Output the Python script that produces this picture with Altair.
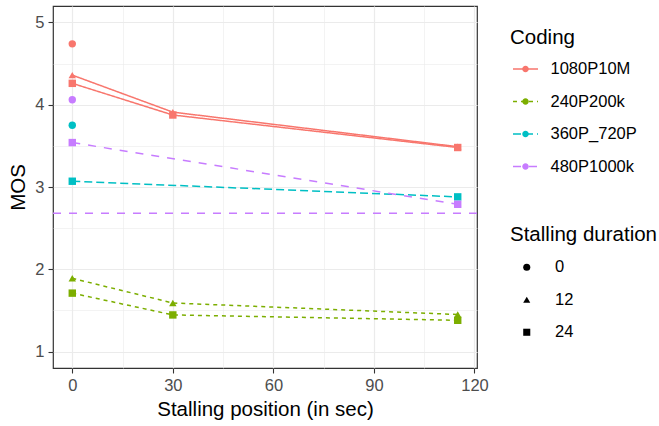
import altair as alt
import pandas as pd

# ---- data ----
coding_levels = ["1080P10M", "240P200k", "360P_720P", "480P1000k"]
coding_colors = ["#F8766D", "#7CAE00", "#00BFC4", "#C77CFF"]
coding_dashes = [[1, 0], [4, 4], [8, 4], [8, 8]]
duration_levels = ["0", "12", "24"]

series_coding = ["1080P10M", "1080P10M", "1080P10M", "240P200k", "240P200k",
                 "360P_720P", "360P_720P", "480P1000k", "480P1000k"]
series_duration = ["0", "12", "24", "12", "24", "0", "24", "0", "24"]
series_position = [[0], [0, 30, 115], [0, 30, 115], [0, 30, 115], [0, 30, 115],
                   [0], [0, 115], [0], [0, 115]]
series_mos = [[4.74], [4.36, 3.91, 3.49], [4.26, 3.875, 3.48],
              [1.89, 1.59, 1.45], [1.71, 1.445, 1.38],
              [3.75], [3.07, 2.88], [4.06], [3.54, 2.79]]
hline_mos = [2.68]

x_ticks = [0, 15, 30, 45, 60, 75, 90, 105, 120]
y_ticks = [1, 1.5, 2, 2.5, 3, 3.5, 4, 4.5, 5]

rows = []
for c, d, ps, ms in zip(series_coding, series_duration, series_position, series_mos):
    for p, m in zip(ps, ms):
        rows.append({"coding": c, "coding_fill": c, "duration": d,
                     "series": c + "_" + d, "position": p, "mos": m})
df = pd.DataFrame(rows)
hdf = pd.DataFrame({"mos": hline_mos})

FONT = "Liberation Sans"
DOT = "M0.26,0A0.26,0.26,0,1,1,-0.26,0A0.26,0.26,0,1,1,0.26,0Z"

x_enc = alt.X(
    "position:Q",
    scale=alt.Scale(domain=[-5.75, 120.75], nice=False, zero=False),
    axis=alt.Axis(
        values=x_ticks,
        title="Stalling position (in sec)",
        labelExpr="datum.value % 30 == 0 ? format(datum.value, 'd') : ''",
        gridWidth={"condition": {"test": "datum.value % 30 != 0", "value": 0.6}, "value": 1.2},
        tickOpacity={"condition": {"test": "datum.value % 30 != 0", "value": 0}, "value": 1},
    ),
)
y_enc = alt.Y(
    "mos:Q",
    scale=alt.Scale(domain=[0.8, 5.2], nice=False, zero=False),
    axis=alt.Axis(
        values=y_ticks,
        title="MOS",
        labelExpr="datum.value % 1 == 0 ? format(datum.value, 'd') : ''",
        gridWidth={"condition": {"test": "datum.value % 1 != 0", "value": 0.6}, "value": 1.2},
        tickOpacity={"condition": {"test": "datum.value % 1 != 0", "value": 0}, "value": 1},
    ),
)

common_legend = dict(
    orient="none", legendX=457, legendY=22, title="Coding",
    titleFontSize=20.5, titleFontWeight="normal", titleFont=FONT,
    labelFontSize=16.5, labelFont=FONT,
    symbolSize=625, symbolStrokeWidth=1.5,
    symbolOffset=2, labelOffset=11.5, rowPadding=10.5, titlePadding=7, padding=0,
)
coding_legend = dict(common_legend, titleColor="black", labelColor="black", symbolType="stroke")
dot_legend = dict(common_legend, titleColor="transparent", labelColor="transparent", symbolType=DOT)

lines = alt.Chart(df).mark_line(strokeWidth=1.5).encode(
    x=x_enc,
    y=y_enc,
    color=alt.Color("coding:N", scale=alt.Scale(domain=coding_levels, range=coding_colors),
                    legend=alt.Legend(**coding_legend)),
    strokeDash=alt.StrokeDash("coding:N", scale=alt.Scale(domain=coding_levels, range=coding_dashes),
                              legend=alt.Legend(**coding_legend)),
    detail="series:N",
)

hline = alt.Chart(hdf).mark_rule(color="#C77CFF", strokeWidth=1.5, strokeDash=[8, 8]).encode(
    y=alt.Y("mos:Q")
)

points = alt.Chart(df).mark_point(filled=True, opacity=1, size=55, color="black", strokeWidth=0).encode(
    x="position:Q",
    y="mos:Q",
    fill=alt.Fill("coding_fill:N", scale=alt.Scale(range=coding_colors),
                  legend=alt.Legend(**dot_legend)),
    shape=alt.Shape("duration:N", scale=alt.Scale(domain=duration_levels,
                                                  range=["circle", "triangle-up", "square"]),
                    legend=alt.Legend(orient="none", legendX=457, legendY=219, title="Stalling duration",
                                      titleFontSize=20.5, titleFontWeight="normal", titleColor="black",
                                      titleFont=FONT, labelFontSize=16.5, labelFont=FONT, labelColor="black",
                                      symbolSize=50, symbolStrokeWidth=0, symbolFillColor="black",
                                      symbolOffset=8.5, labelOffset=20, rowPadding=15.5,
                                      titlePadding=13.5, padding=0)),
)

chart = alt.layer(lines, hline, points).properties(
    width=424, height=362,
    autosize=alt.AutoSizeParams(type="none"),
    padding={"left": 53, "top": 6, "right": 182, "bottom": 58},
    background="white",
).configure_view(
    stroke="#333333", strokeWidth=1.2, fill="white"
).configure_axis(
    domain=False,
    gridColor="#EBEBEB",
    tickColor="#333333", tickWidth=1.1, tickSize=5,
    labelColor="#4D4D4D", labelFont=FONT, labelFontSize=16.5, labelPadding=4,
    titleFont=FONT, titleFontSize=20.5, titleFontWeight="normal", titleColor="black",
).configure_axisY(
    titlePadding=6,
).configure_axisX(
    titlePadding=6,
)

chart.save("out.html", embed_options={"renderer": "svg", "actions": False})
